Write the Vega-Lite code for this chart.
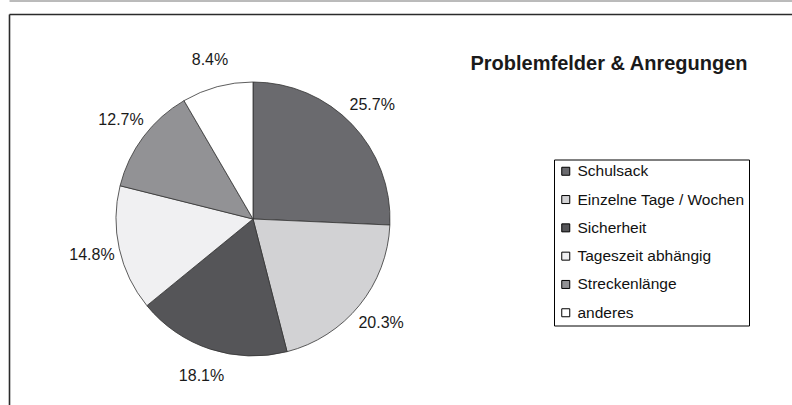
{
  "$schema": "https://vega.github.io/schema/vega-lite/v6.json",
  "autosize": {"type": "none"},
  "padding": {"left": 9, "top": 14, "right": 0, "bottom": 0},
  "width": 783,
  "height": 391,
  "background": "white",
  "view": {"stroke": null, "fill": "white"},
  "config": {
    "font": "Liberation Sans"
  },
  "title": {
    "text": "Problemfelder & Anregungen",
    "anchor": "start",
    "frame": "group",
    "align": "center",
    "baseline": "alphabetic",
    "offset": 0,
    "dx": 600,
    "dy": 89,
    "font": "Liberation Sans",
    "fontSize": 20,
    "fontWeight": "bold",
    "color": "#1a1a1a"
  },
  "data": {
    "values": [
      {"category": "Schulsack", "share": 0.257, "idx": 1},
      {"category": "Einzelne Tage / Wochen", "share": 0.203, "idx": 2},
      {"category": "Sicherheit", "share": 0.181, "idx": 3},
      {"category": "Tageszeit abhängig", "share": 0.148, "idx": 4},
      {"category": "Streckenlänge", "share": 0.127, "idx": 5},
      {"category": "anderes", "share": 0.084, "idx": 6}
    ]
  },
  "resolve": {"scale": {"x": "independent"}, "axis": {"x": "independent"}},
  "layer": [
    {
      "mark": {"type": "arc", "radius": 137, "xOffset": -147.5, "yOffset": 9.5, "stroke": "#333333", "strokeWidth": 0.8},
      "encoding": {
        "theta": {"field": "share", "type": "quantitative", "stack": true},
        "order": {"field": "idx", "type": "quantitative"},
        "color": {
          "field": "category",
          "type": "nominal",
          "sort": ["Schulsack", "Einzelne Tage / Wochen", "Sicherheit", "Tageszeit abhängig", "Streckenlänge", "anderes"],
          "scale": {
            "domain": ["Schulsack", "Einzelne Tage / Wochen", "Sicherheit", "Tageszeit abhängig", "Streckenlänge", "anderes"],
            "range": ["#6a6a6e", "#d2d2d4", "#555558", "#f0f0f2", "#929295", "#ffffff"]
          },
          "legend": {
            "title": null,
            "orient": "none",
            "legendX": 545,
            "legendY": 145.5,
            "padding": 4,
            "strokeColor": "#000000",
            "fillColor": "#ffffff",
            "symbolType": "square",
            "symbolSize": 64,
            "symbolStrokeColor": "#000000",
            "symbolStrokeWidth": 1,
            "labelFont": "Liberation Sans",
            "labelFontSize": 15.5,
            "labelColor": "#111111",
            "labelOffset": 4,
            "labelLimit": 300,
            "rowPadding": 11.3
          }
        }
      }
    },
    {
      "mark": {"type": "text", "radius": 165, "xOffset": -147.5, "yOffset": 9.5, "font": "Liberation Sans", "fontSize": 16, "color": "#1a1a1a"},
      "encoding": {
        "theta": {"field": "share", "type": "quantitative", "stack": true},
        "order": {"field": "idx", "type": "quantitative"},
        "text": {"field": "share", "type": "quantitative", "format": ".1%"}
      }
    },
    {
      "mark": {"type": "point", "opacity": 0},
      "encoding": {
        "x": {"datum": 0.5, "type": "quantitative", "scale": {"domain": [0, 1]},
              "axis": {"orient": "top", "offset": 0, "domainColor": "#2b2b2b", "domainWidth": 1.6, "labels": false, "ticks": false, "grid": false, "title": null}},
        "y": {"datum": 0.5, "type": "quantitative", "scale": {"domain": [0, 1]},
              "axis": {"orient": "left", "offset": 0, "domainColor": "#2b2b2b", "domainWidth": 1.6, "labels": false, "ticks": false, "grid": false, "title": null}}
      }
    },
    {
      "mark": {"type": "point", "opacity": 0},
      "encoding": {
        "x": {"datum": 0.5, "type": "quantitative", "scale": {"domain": [0, 1]},
              "axis": {"orient": "top", "offset": 13.5, "domainColor": "#777777", "domainWidth": 1, "labels": false, "ticks": false, "grid": false, "title": null}}
      }
    }
  ]
}
